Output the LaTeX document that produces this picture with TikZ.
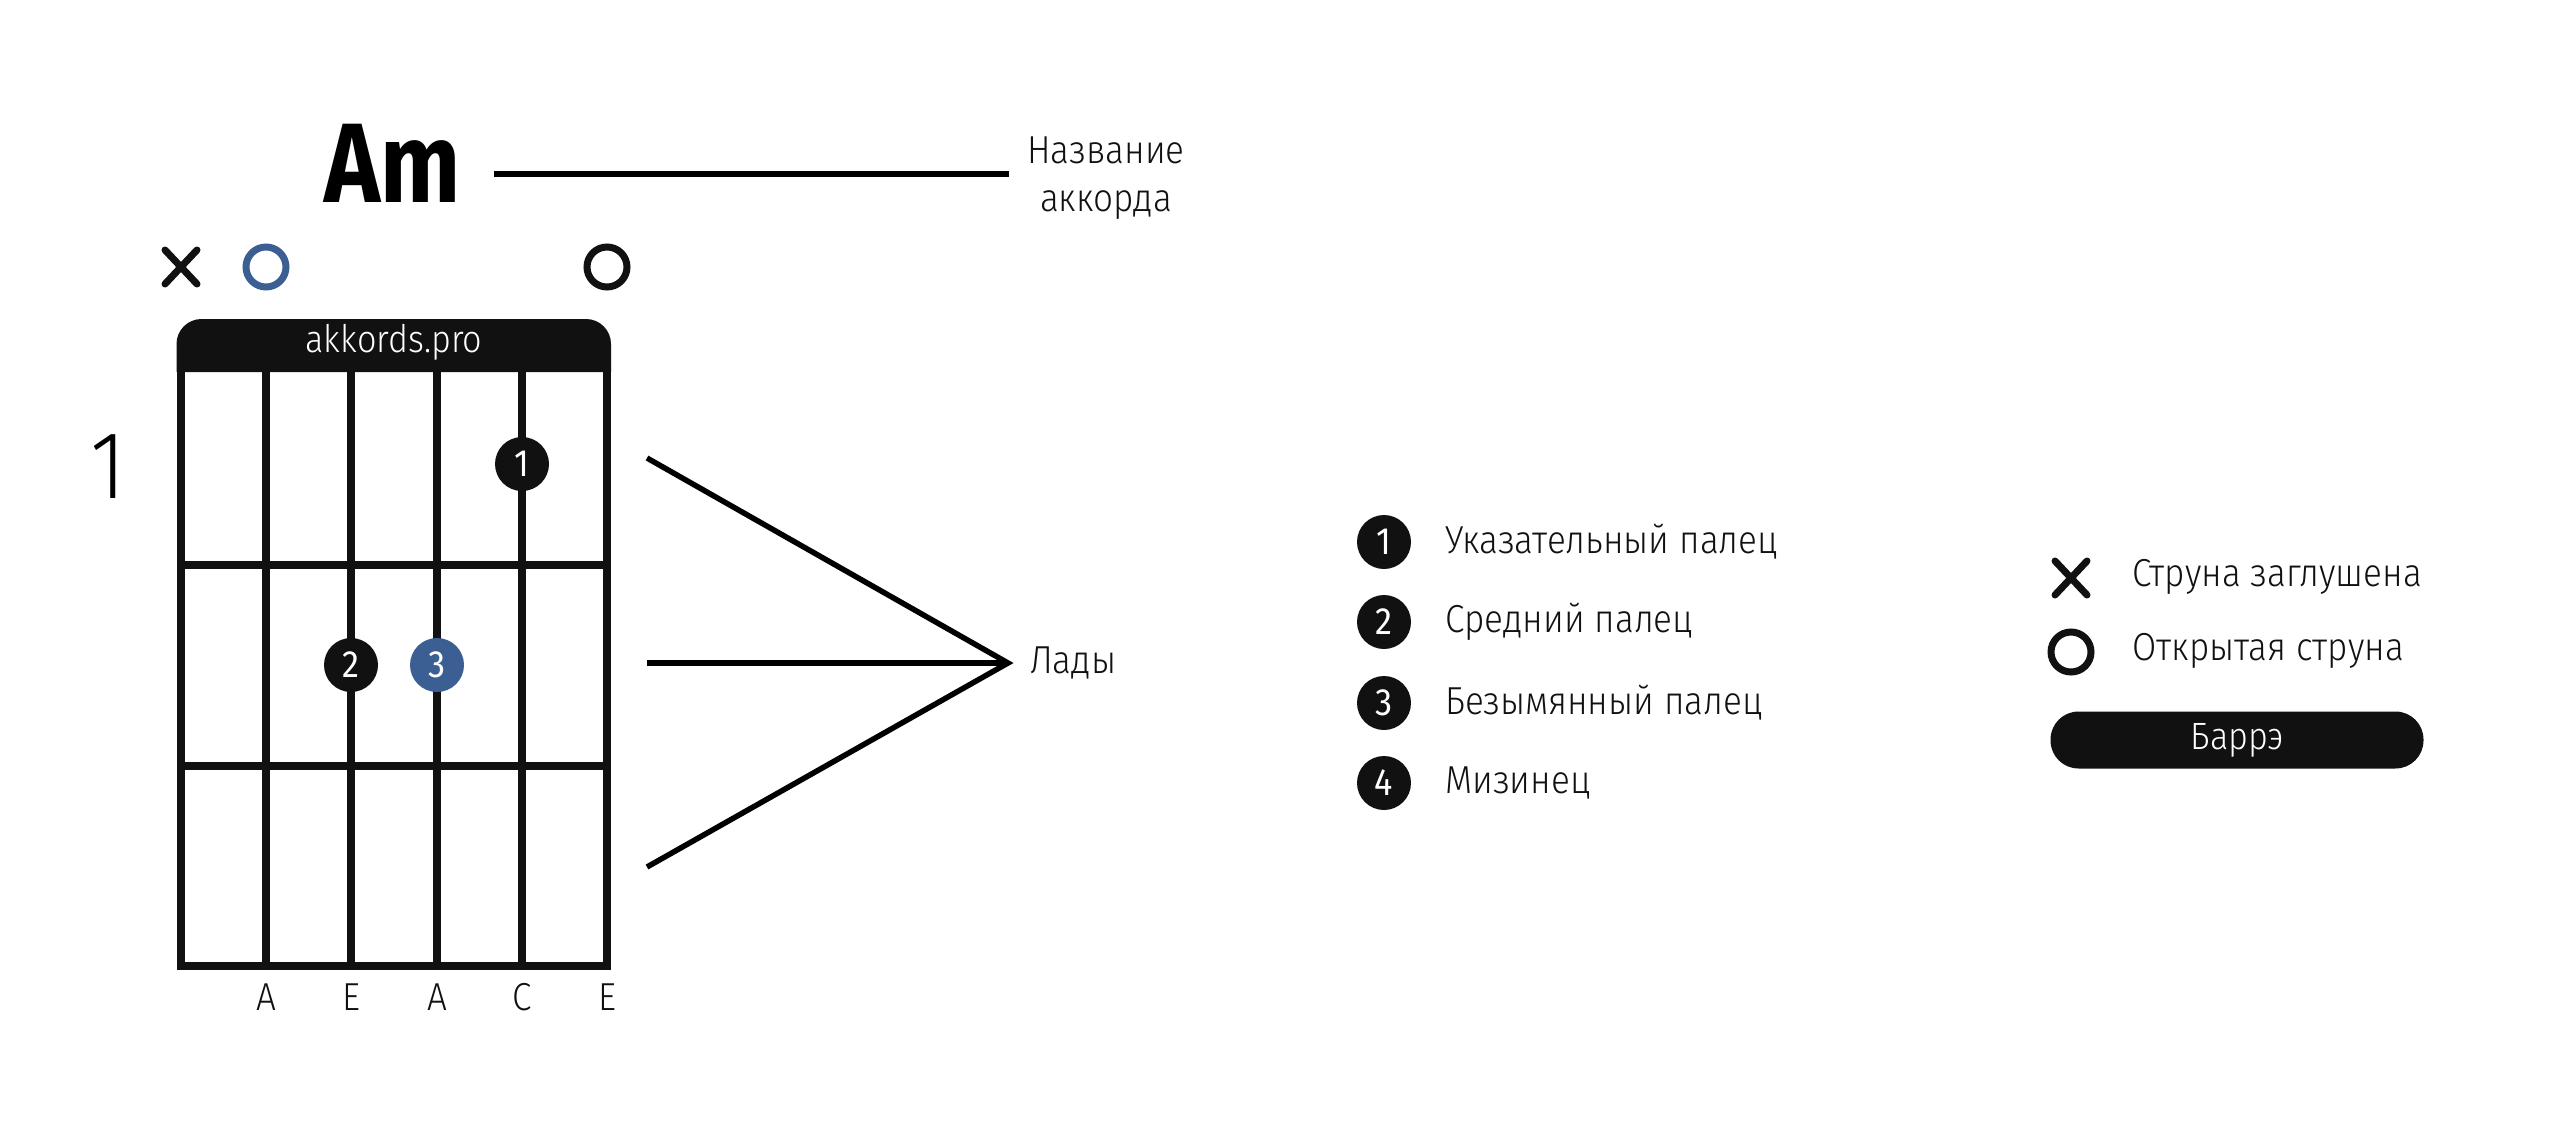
\documentclass[tikz,border=0pt]{standalone}
\usepackage{fontspec}
\usetikzlibrary{calc}
\IfFontExistsTF{Fira Sans Light}{%
  \setmainfont{Fira Sans Light}[FakeStretch=0.9, BoldFont={Fira Sans Bold}, BoldFeatures={FakeStretch=0.84}]%
}{%
  \setmainfont{Fira Sans}[FakeStretch=0.88]%
}
\newfontfamily\digitfont{Fira Sans}[FakeStretch=0.9]
\definecolor{ink}{HTML}{111111}
\definecolor{accent}{HTML}{3C5F93}
\tikzset{
  lbl/.style={font=\fontsize{39}{48}\selectfont, inner sep=0pt, text=ink},
  fingerdot/.style={circle, fill=ink, minimum size=54pt, inner sep=0pt, text=white, font=\digitfont\fontsize{38}{44}\selectfont},
  openmark/.style={circle, draw=ink, line width=7pt, minimum size=40pt, inner sep=0pt},
  gridline/.style={line width=8.5pt, draw=ink},
  pointer/.style={line width=5.5pt, draw=black},
}
\begin{document}
\begin{tikzpicture}[x=1pt,y=-1pt]
\useasboundingbox (0,0) rectangle (2560,1138);
\fill[white] (0,0) rectangle (2560,1138);

% chord name
\node[font=\bfseries\fontsize{113}{120}\selectfont, inner sep=0pt] (am) at (393,163) {Am};
\node[lbl, align=center] (nameLbl) at (1106,178) {Название\\аккорда};
\coordinate (amEnd) at (494,174);
\coordinate (nameEnd) at (1009,174);
\draw[pointer] (amEnd) -- (nameEnd);

% header
\fill[ink] (176.5,372) [rounded corners=25pt] -- (176.5,319) -- (611,319) [sharp corners] -- (611,372) -- cycle;
\node[font=\fontsize{38}{44}\selectfont, text=white, inner sep=0pt] (site) at (394,342) {akkords.pro};

% strings
\foreach \i/\x in {1/181,2/266,3/351,4/437,5/522,6/607}{
  \coordinate (s\i top) at (\x,365);
  \coordinate (s\i bot) at (\x,970);
  \draw[gridline] (s\i top) -- (s\i bot);
}
% frets
\foreach \j/\y in {1/565,2/766,3/966}{
  \coordinate (f\j l) at (176.75,\y);
  \coordinate (f\j r) at (611.25,\y);
  \draw[gridline] (f\j l) -- (f\j r);
}

% fret number
\node[font=\fontsize{96}{100}\selectfont, inner sep=0pt] (fretno) at (108,467) {1};

% open / muted marks
\coordinate (mx) at (181,267);
\draw[line width=7pt, line cap=round, ink] ($(mx)+(-16,-17)$) -- ($(mx)+(16,17)$) ($(mx)+(16,-17)$) -- ($(mx)+(-16,17)$);
\node[openmark, draw=accent] (open2) at (266,267) {};
\node[openmark] (open6) at (607,267) {};

% finger dots
\node[fingerdot] (d1) at (522,464) {1};
\node[fingerdot] (d2) at (351,665) {2};
\node[fingerdot, fill=accent] (d3) at (437,665) {3};

% string names
\foreach \i/\x/\t in {2/266/A,3/351/E,4/437/A,5/522/C,6/607/E}{
  \node[lbl, anchor=base] (n\i) at (\x,1010) {\t};
}

% frets pointer
\node[lbl, anchor=west] (lady) at (1030,663) {Лады};
\coordinate (tip) at (1008,663);
\coordinate (p1) at (647,458);
\coordinate (p2) at (647,663);
\coordinate (p3) at (647,867);
\draw[pointer, line join=miter] (p1) -- (tip) -- (p3);
\draw[pointer] (p2) -- (tip);

% finger legend
\foreach \k/\y/\t in {1/542/Указательный палец,2/622/Средний палец,3/703/Безымянный палец,4/783/Мизинец}{
  \node[fingerdot] (lg\k) at (1384,\y) {\k};
  \node[lbl, anchor=west] (lt\k) at (1445,\y) {\t};
}

% mark legend
\coordinate (lx) at (2071,578);
\draw[line width=7pt, line cap=round, ink] ($(lx)+(-16,-17)$) -- ($(lx)+(16,17)$) ($(lx)+(16,-17)$) -- ($(lx)+(-16,17)$);
\node[lbl, anchor=west] (mutedTxt) at (2132,577) {Струна заглушена};
\node[openmark] (lo) at (2071,652) {};
\node[lbl, anchor=west] (openTxt) at (2132,651) {Открытая струна};
\node[rectangle, rounded corners=28pt, fill=ink, minimum width=373pt, minimum height=57pt, inner sep=0pt, text=white, font=\fontsize{38}{44}\selectfont] (barre) at (2237,740) {Баррэ};
\end{tikzpicture}
\end{document}
